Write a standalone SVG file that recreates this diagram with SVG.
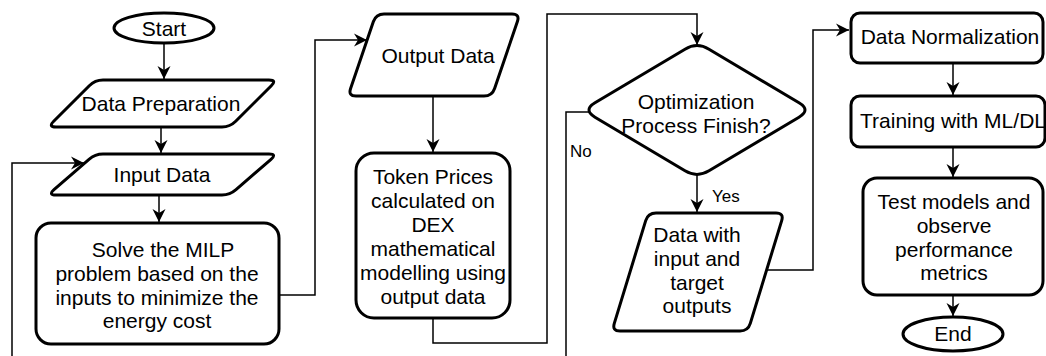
<svg xmlns="http://www.w3.org/2000/svg" width="1046" height="356" viewBox="0 0 1046 356">
<defs>
<style>
.n{fill:#fff;stroke:#000;stroke-width:3;stroke-linejoin:round}
.c{fill:none;stroke:#000;stroke-width:1.5}
.t{font-family:"Liberation Sans",Arial,Helvetica,sans-serif;font-size:21px;fill:#000;text-anchor:middle}
.l{font-family:"Liberation Sans",Arial,Helvetica,sans-serif;font-size:17px;fill:#000}
</style>
<marker id="arr" viewBox="-14 -7 15 14" refX="0" refY="0" markerWidth="15" markerHeight="14" markerUnits="userSpaceOnUse" orient="auto">
<path d="M0,0 L-13,-6.5 L-9,0 L-13,6.5 Z" fill="#000"/>
</marker>
</defs>
<rect width="1046" height="356" fill="#fff"/>
<g id="connectors">
<path class="c" d="M164,43 L164,79" marker-end="url(#arr)"/>
<path class="c" d="M161,127 L161,153" marker-end="url(#arr)"/>
<path class="c" d="M159,195 L159,222" marker-end="url(#arr)"/>
<path class="c" d="M279,295 L315,295 L315,40 L367,40" marker-end="url(#arr)"/>
<path class="c" d="M433,96 L433,152" marker-end="url(#arr)"/>
<path class="c" d="M433,318 L433,343 L547,343 L547,14 L697,14 L697,45" marker-end="url(#arr)"/>
<path class="c" d="M697,175 L697,212" marker-end="url(#arr)"/>
<path class="c" d="M589,112 L566,112 L566,362 L12,362 L12,163 L84,163" marker-end="url(#arr)"/>
<path class="c" d="M767,270 L813,270 L813,30 L849,30" marker-end="url(#arr)"/>
<path class="c" d="M953,63 L953,95" marker-end="url(#arr)"/>
<path class="c" d="M953,147 L953,177" marker-end="url(#arr)"/>
<path class="c" d="M953,295 L953,316" marker-end="url(#arr)"/>
<text class="l" x="570" y="157">No</text>
<text class="l" x="712" y="202">Yes</text>
</g>
<g id="start">
<ellipse class="n" cx="164" cy="28" rx="50" ry="15"/>
<text class="t" x="164" y="36">Start</text>
</g>
<g id="data-preparation">
<path class="n" d="M103,80 L269,80 Q277,80 271.3,85.7 L235.7,121.3 Q230,127 222,127 L56,127 Q48,127 53.7,121.3 L89.3,85.7 Q95,80 103,80 Z"/>
<text class="t" x="161" y="111">Data Preparation</text>
</g>
<g id="input-data">
<path class="n" d="M103,154 L269,154 Q277,154 271,159.3 L236,189.7 Q230,195 222,195 L56,195 Q48,195 54,189.7 L89,159.3 Q95,154 103,154 Z"/>
<text class="t" x="162" y="182">Input Data</text>
</g>
<g id="solve-milp">
<rect class="n" x="36" y="223" width="243" height="121" rx="15"/>
<text class="t" x="163" y="257">Solve the MILP</text>
<text class="t" x="157" y="281">problem based on the</text>
<text class="t" x="157" y="305">inputs to minimize the</text>
<text class="t" x="157" y="328">energy cost</text>
</g>
<g id="output-data">
<path class="n" d="M384,14 L512,14 Q520,14 517.4,21.6 L494.6,88.4 Q492,96 484,96 L356,96 Q348,96 350.6,88.4 L373.4,21.6 Q376,14 384,14 Z"/>
<text class="t" x="438" y="63">Output Data</text>
</g>
<g id="token-prices">
<rect class="n" x="356" y="153" width="154" height="165" rx="18"/>
<text class="t" x="433" y="184">Token Prices</text>
<text class="t" x="433" y="208">calculated on</text>
<text class="t" x="433" y="232">DEX</text>
<text class="t" x="433" y="256">mathematical</text>
<text class="t" x="433" y="280">modelling using</text>
<text class="t" x="433" y="304">output data</text>
</g>
<g id="optimization-finish">
<path class="n" d="M709,49.2 L799,102.8 Q811,110 799,117.2 L709,170.8 Q697,178 685,170.8 L595,117.2 Q583,110 595,102.8 L685,49.2 Q697,42 709,49.2 Z"/>
<text class="t" x="696" y="109">Optimization</text>
<text class="t" x="696" y="133">Process Finish?</text>
</g>
<g id="data-with-targets">
<path class="n" d="M656,213 L776,213 Q784,213 781.7,220.6 L750.3,323.4 Q748,331 740,331 L620,331 Q612,331 614.3,323.4 L645.7,220.6 Q648,213 656,213 Z"/>
<text class="t" x="697" y="242">Data with</text>
<text class="t" x="697" y="266">input and</text>
<text class="t" x="697" y="290">target</text>
<text class="t" x="697" y="313">outputs</text>
</g>
<g id="data-normalization">
<rect class="n" x="851" y="13" width="192" height="50" rx="9"/>
<text class="t" x="950" y="44">Data Normalization</text>
</g>
<g id="training">
<rect class="n" x="851" y="96" width="194" height="51" rx="9"/>
<text class="t" x="953" y="128">Training with ML/DL</text>
</g>
<g id="test-models">
<rect class="n" x="863" y="178" width="180" height="117" rx="14"/>
<text class="t" x="954" y="209">Test models and</text>
<text class="t" x="954" y="233">observe</text>
<text class="t" x="954" y="257">performance</text>
<text class="t" x="954" y="280">metrics</text>
</g>
<g id="end">
<ellipse class="n" cx="953" cy="334" rx="50" ry="17"/>
<text class="t" x="953" y="341">End</text>
</g>
</svg>
